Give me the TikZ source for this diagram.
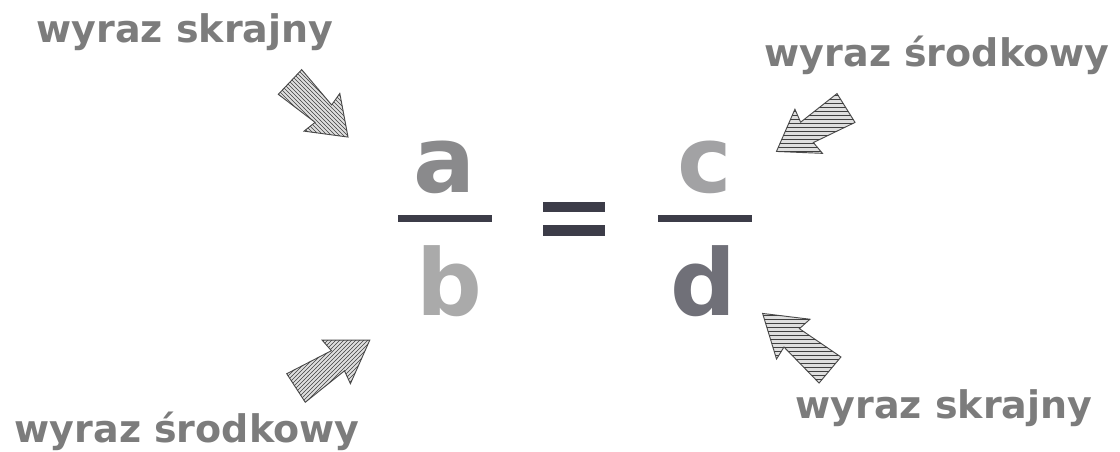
\documentclass[tikz,border=0pt]{standalone}
\usepackage{fontspec}
\setmainfont{DejaVu Sans}
\usetikzlibrary{patterns}
\definecolor{labelgray}{HTML}{7C7C7C}
\definecolor{bargray}{HTML}{3C3C48}
\tikzset{
  label text/.style={inner sep=0pt,anchor=base,text=labelgray,
    font=\fontsize{28.5}{32}\selectfont\bfseries},
  letter/.style={inner sep=0pt,anchor=base,
    font=\fontsize{69}{72}\selectfont\bfseries},
  hatch arrow/.style={draw=gray!60!black,line width=0.7pt,fill=gray!25,
    postaction={pattern=#1,pattern color=black!75}}
}
\begin{document}
\begin{tikzpicture}[x=0.75pt,y=-0.75pt]
\useasboundingbox[fill=white] (0,0) rectangle (1120,452);
% labels
\node[label text] (skrajnyA) at (185,43) {wyraz skrajny};
\node[label text] (srodkowyA) at (937,67) {wyraz środkowy};
\node[label text] (srodkowyB) at (187,442) {wyraz środkowy};
\node[label text] (skrajnyB) at (944,418) {wyraz skrajny};
% proportion
\node[letter,text={rgb,255:red,138;green,138;blue,140}] (a) at (445,193) {a};
\node[letter,text={rgb,255:red,170;green,170;blue,170}] (b) at (449,315) {b};
\node[letter,text={rgb,255:red,162;green,162;blue,164}] (c) at (705,193) {c};
\node[letter,text={rgb,255:red,112;green,112;blue,120}] (d) at (703,315) {d};
\fill[bargray] (398,215) rectangle (492,222);
\fill[bargray] (658,215) rectangle (752,222);
\fill[bargray] (543,202) rectangle (605,212);
\fill[bargray] (543,225) rectangle (605,236);
% arrows
\draw[hatch arrow=north west lines,shift={(290,82)},rotate=-43.5]
  (0,-17) -- (46,-12) -- (44,-26) -- (80,0) -- (44,26) -- (46,12) -- (0,17) -- cycle;
\draw[hatch arrow=horizontal lines,shift={(846,108)},rotate=212]
  (0,-17) -- (46,-12) -- (44,-26) -- (82,0) -- (44,26) -- (46,12) -- (0,17) -- cycle;
\draw[hatch arrow=north east lines,shift={(296,388)},rotate=33]
  (0,-17) -- (50,-12) -- (48,-26) -- (88,0) -- (48,26) -- (50,12) -- (0,17) -- cycle;
\draw[hatch arrow=horizontal lines,shift={(830,370)},rotate=140]
  (0,-17) -- (50,-12) -- (48,-26) -- (88,0) -- (48,26) -- (50,12) -- (0,17) -- cycle;
\end{tikzpicture}
\end{document}
